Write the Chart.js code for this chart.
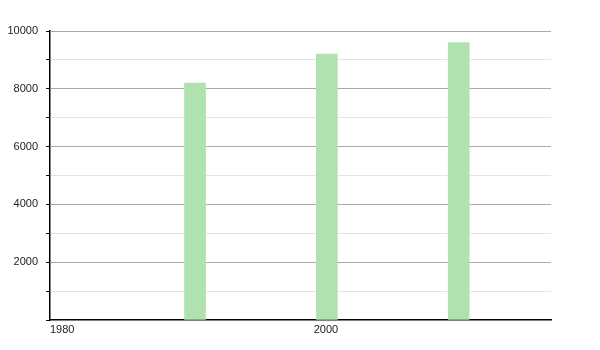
<!DOCTYPE html>
<html>
<head>
  <meta charset="utf-8">
  <title>Bars by year</title>
  <script src="https://cdn.jsdelivr.net/npm/chart.js"></script>
  <style>
    body { margin: 0; background: #fff; }
    #chart { display: block; }
  </style>
</head>
<body>
<canvas id="chart" width="600" height="350"></canvas>
<script>
const years = [1991, 2001, 2011];
const values = [8200, 9200, 9600];
const xTicks = [1980, 2000];

const ctx = document.getElementById('chart').getContext('2d');
new Chart(ctx, {
  type: 'bar',
  data: {
    datasets: [{
      data: years.map((y, i) => ({x: y, y: values[i]})),
      backgroundColor: '#b0e2b0',
      borderWidth: 0,
      barThickness: 21
    }]
  },
  options: {
    responsive: false,
    animation: false,
    layout: {padding: {top: 31, right: 49, left: 0, bottom: 0}},
    plugins: {legend: {display: false}, tooltip: {enabled: false}},
    scales: {
      x: {
        type: 'linear',
        offset: false,
        min: 1980,
        max: 2018,
        afterBuildTicks: s => { s.ticks = xTicks.map(v => ({value: v})); },
        afterFit: s => { s.height = 30; },
        grid: {display: false, drawTicks: false, offset: false},
        border: {display: true, color: '#000', width: 1.5},
        ticks: {
          align: 'start',
          padding: 3,
          color: '#222',
          font: {family: 'Liberation Sans', size: 11},
          callback: v => String(v)
        }
      },
      y: {
        min: 0,
        max: 10000,
        afterFit: s => { s.width = 50; },
        border: {display: true, color: '#000', width: 1.5},
        grid: {
          color: c => c.tick.value === 0 ? 'rgba(0,0,0,0)' : (c.tick.value % 2000 === 0 ? '#aaaaaa' : '#e4e4e4'),
          tickColor: '#000',
          tickLength: 4,
          lineWidth: 1
        },
        ticks: {
          stepSize: 1000,
          padding: 8,
          color: '#222',
          font: {family: 'Liberation Sans', size: 11},
          callback: v => (v > 0 && v % 2000 === 0) ? String(v) : ''
        }
      }
    }
  }
});
</script>
</body>
</html>
